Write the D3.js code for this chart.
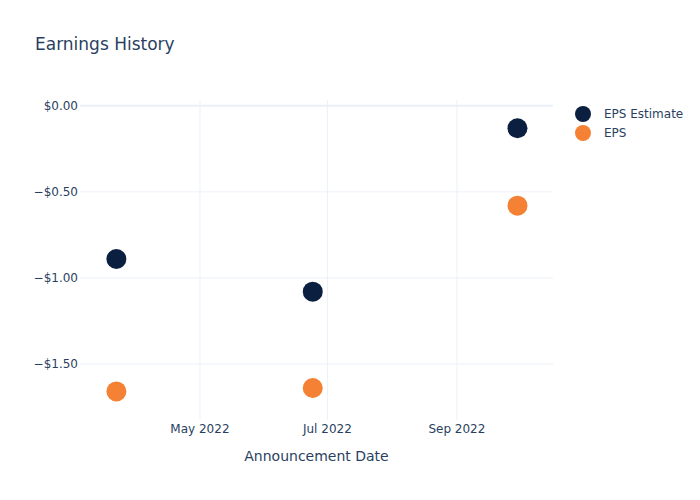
<!DOCTYPE html>
<html>
<head>
<meta charset="utf-8">
<script src="https://cdn.jsdelivr.net/npm/d3@7"></script>
<style>
  body { margin: 0; background: #fff; }
  text { font-family: "DejaVu Sans", Verdana, sans-serif; fill: #2a3f5f; }
</style>
</head>
<body>
<svg id="chart"></svg>
<script>
// data
const dates = ["2022-03-22", "2022-06-24", "2022-09-30"];
const epsEstimate = [-0.89, -1.08, -0.13];
const eps = [-1.66, -1.64, -0.58];
const yTicks = [0, -0.5, -1, -1.5];
const xTicks = ["2022-05-01", "2022-07-01", "2022-09-01"];
const seriesNames = ["EPS Estimate", "EPS"];
const seriesColors = ["#0b1f40", "#f58134"];

const width = 700, height = 500;
const margin = { top: 100, right: 147, bottom: 80, left: 80 };

const svg = d3.select("#chart")
    .attr("width", width)
    .attr("height", height);

const parse = d3.utcParse("%Y-%m-%d");

const x = d3.scaleUtc()
    .domain([new Date(Date.UTC(2022, 2, 4, 14)), new Date(Date.UTC(2022, 9, 17, 0))])
    .range([margin.left, width - margin.right]);

const y = d3.scaleLinear()
    .domain([0.034, -1.826])
    .range([margin.top, height - margin.bottom]);

// grid lines
const grid = svg.append("g");
grid.selectAll(".vgrid")
    .data(xTicks)
    .enter().append("line")
    .attr("x1", d => x(parse(d)))
    .attr("x2", d => x(parse(d)))
    .attr("y1", margin.top)
    .attr("y2", height - margin.bottom)
    .attr("stroke", "#ebf0f8")
    .attr("stroke-width", 1);

grid.selectAll(".hgrid")
    .data(yTicks)
    .enter().append("line")
    .attr("x1", margin.left)
    .attr("x2", width - margin.right)
    .attr("y1", d => y(d))
    .attr("y2", d => y(d))
    .attr("stroke", "#ebf0f8")
    .attr("stroke-width", d => d === 0 ? 2 : 1);

// y axis labels
const fmt = v => (v < 0 ? "\u2212" : "") + "$" + Math.abs(v).toFixed(2);
svg.append("g").selectAll("text")
    .data(yTicks)
    .enter().append("text")
    .attr("x", margin.left - 2)
    .attr("y", d => y(d))
    .attr("dy", "0.35em")
    .attr("text-anchor", "end")
    .style("font-size", "12px")
    .text(fmt);

// x axis labels
const xfmt = d3.utcFormat("%b %Y");
svg.append("g").selectAll("text")
    .data(xTicks)
    .enter().append("text")
    .attr("x", d => x(parse(d)))
    .attr("y", height - margin.bottom + 13)
    .attr("text-anchor", "middle")
    .style("font-size", "12px")
    .text(d => xfmt(parse(d)));

// titles
svg.append("text")
    .attr("x", 35)
    .attr("y", 50)
    .style("font-size", "17px")
    .text("Earnings History");

svg.append("text")
    .attr("x", (margin.left + width - margin.right) / 2)
    .attr("y", 461)
    .attr("text-anchor", "middle")
    .style("font-size", "14px")
    .text("Announcement Date");

// points
[epsEstimate, eps].forEach((vals, i) => {
    svg.append("g").selectAll("circle")
        .data(vals)
        .enter().append("circle")
        .attr("cx", (d, j) => x(parse(dates[j])))
        .attr("cy", d => y(d))
        .attr("r", 10)
        .attr("fill", seriesColors[i]);
});

// legend
const legend = svg.append("g");
seriesNames.forEach((name, i) => {
    legend.append("circle")
        .attr("cx", 583)
        .attr("cy", 114 + i * 19)
        .attr("r", 8)
        .attr("fill", seriesColors[i]);
    legend.append("text")
        .attr("x", 604)
        .attr("y", 114 + i * 19)
        .attr("dy", "0.35em")
        .style("font-size", "12px")
        .text(name);
});
</script>
</body>
</html>
